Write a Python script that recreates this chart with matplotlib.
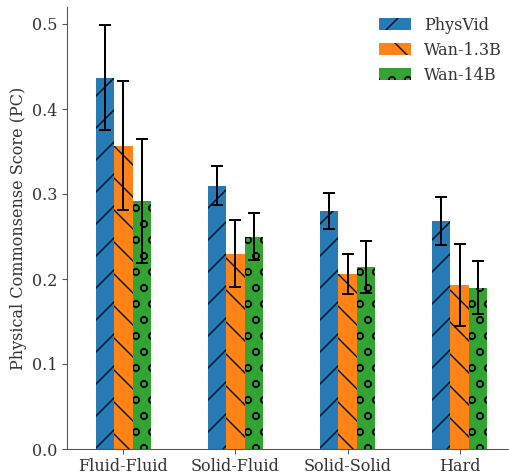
import numpy as np
import matplotlib
matplotlib.use("Agg")
import matplotlib.pyplot as plt

categories = ["Fluid-Fluid", "Solid-Fluid", "Solid-Solid", "Hard"]
models = ["PhysVid", "Wan-1.3B", "Wan-14B"]
physvid = [0.437, 0.310, 0.280, 0.268]
physvid_err = [0.062, 0.023, 0.021, 0.028]
wan13 = [0.357, 0.230, 0.206, 0.193]
wan13_err = [0.076, 0.039, 0.024, 0.048]
wan14 = [0.292, 0.250, 0.214, 0.190]
wan14_err = [0.073, 0.028, 0.031, 0.031]

values = [physvid, wan13, wan14]
errors = [physvid_err, wan13_err, wan14_err]
colors = ["#1f77b4", "#ff7f0e", "#2ca02c"]
hatches = ["/", "\\", "o"]

plt.rcParams["font.family"] = ["DejaVu Serif"]
plt.rcParams["font.size"] = 12
plt.rcParams["hatch.color"] = "black"
plt.rcParams["hatch.linewidth"] = 1.0
plt.rcParams["text.color"] = "#333333"
plt.rcParams["axes.labelcolor"] = "#333333"
plt.rcParams["xtick.labelcolor"] = "#333333"
plt.rcParams["ytick.labelcolor"] = "#333333"
plt.rcParams["xtick.color"] = "#555555"
plt.rcParams["ytick.color"] = "#555555"
plt.rcParams["axes.edgecolor"] = "#555555"

fig = plt.figure(figsize=(509 / 96, 474 / 96), dpi=96)
ax = fig.add_axes([67 / 509, 25 / 474, 1 - 67 / 509, (449 - 7) / 474])

x = np.arange(len(categories))
w = 0.165
for i, (vals, errs) in enumerate(zip(values, errors)):
    ax.bar(x + (i - 1) * w, vals, w, yerr=errs, color=colors[i], alpha=0.97,
           hatch=hatches[i], linewidth=0, label=models[i],
           error_kw=dict(ecolor="black", elinewidth=1.5, capsize=4.5, capthick=1.5))

ax.set_xticks(x)
ax.set_xticklabels(categories)
ax.set_ylabel("Physical Commonsense Score (PC)")
ax.set_xlim(-0.503, 3.44)
ax.set_ylim(0, 0.52)
ax.set_yticks([0.0, 0.1, 0.2, 0.3, 0.4, 0.5])
ax.spines["top"].set_visible(False)
ax.spines["right"].set_visible(False)
ax.legend(frameon=False, loc="upper right", bbox_to_anchor=(1.017, 1.011))

fig.savefig("out.png", dpi=96)
